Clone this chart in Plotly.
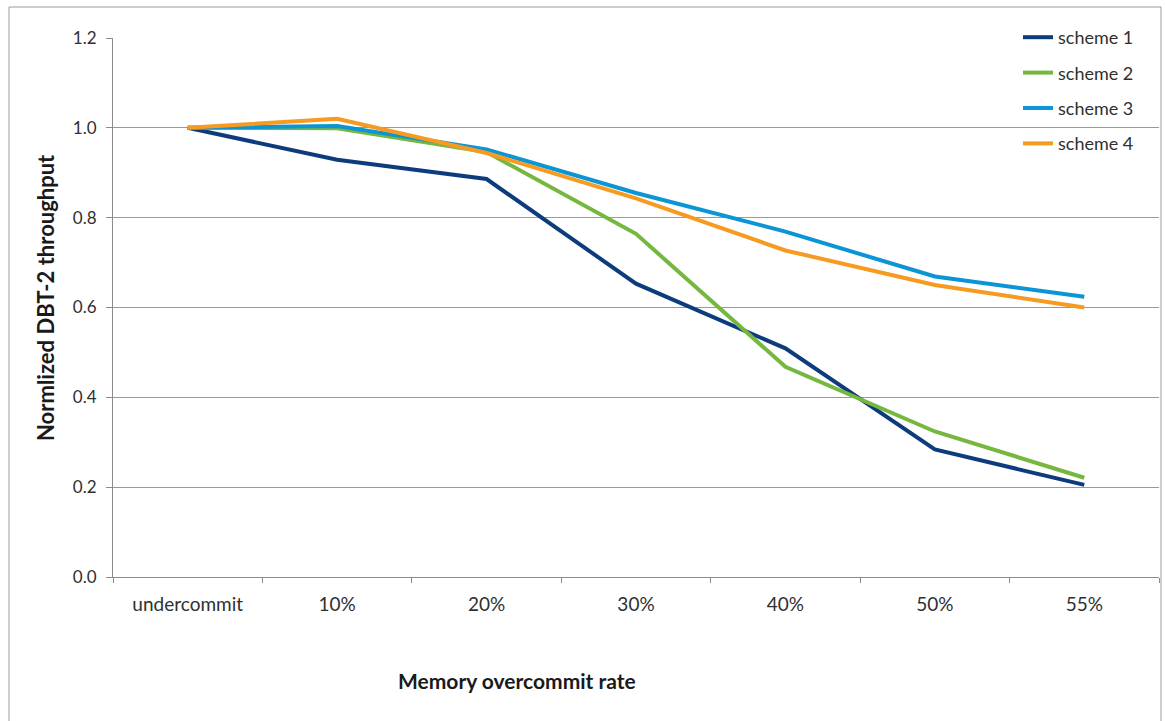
import plotly.graph_objects as go

categories = ["undercommit", "10%", "20%", "30%", "40%", "50%", "55%"]
scheme_1 = [1.0, 0.929, 0.886, 0.653, 0.509, 0.284, 0.205]
scheme_2 = [1.0, 0.999, 0.946, 0.764, 0.468, 0.324, 0.221]
scheme_3 = [1.0, 1.004, 0.952, 0.855, 0.769, 0.669, 0.624]
scheme_4 = [1.0, 1.020, 0.944, 0.843, 0.727, 0.650, 0.600]
series_names = ["scheme 1", "scheme 2", "scheme 3", "scheme 4"]
y_ticks = [0.0, 0.2, 0.4, 0.6, 0.8, 1.0, 1.2]

colors = ["#0D3C7D", "#76B740", "#0C95D4", "#F79A20"]
FONT = "Lato"

W, H = 1165, 721
L, R, T, B = 113, 6, 38, 144
pw, ph = W - L - R, H - T - B

fig = go.Figure()
for i, (name, vals) in enumerate(zip(series_names, [scheme_1, scheme_2, scheme_3, scheme_4])):
    fig.add_trace(go.Scatter(
        x=categories, y=vals, name=name, mode="lines",
        line=dict(color=colors[i], width=4),
        legendgroup=name,
    ))

def px_x(v):
    return (v - L) / pw

def px_y(v):
    return (H - B - v) / ph

fig.update_layout(
    width=W, height=H,
    margin=dict(l=L, r=R, t=T, b=B),
    paper_bgcolor="white", plot_bgcolor="white",
    font=dict(family=FONT, size=18, color="#303030"),
    showlegend=True,
    legend=dict(
        x=px_x(1018), y=px_y(19), xanchor="left", yanchor="top",
        traceorder="grouped", tracegroupgap=9,
        bgcolor="rgba(0,0,0,0)", font=dict(size=18, color="#303030"),
        itemwidth=30,
    ),
    xaxis=dict(
        type="category", range=[-0.5, 6.5],
        showgrid=False, showline=True, linecolor="#8C8C8C", linewidth=1,
        ticks="outside", tickson="boundaries", ticklen=5, tickcolor="#8C8C8C",
        tickfont=dict(size=19, color="#303030"),
        zeroline=False, ticklabelstandoff=10,
    ),
    yaxis=dict(
        range=[0, 1.2], tickvals=y_ticks, tickformat=".1f",
        showgrid=True, gridcolor="#9A9A9A", gridwidth=1,
        showline=True, linecolor="#8C8C8C", linewidth=1,
        ticks="outside", ticklen=6, tickcolor="#8C8C8C",
        tickfont=dict(size=17, color="#303030"),
        zeroline=False, ticklabelstandoff=6,
    ),
    shapes=[dict(
        type="rect", xref="paper", yref="paper",
        x0=px_x(9), x1=px_x(1161), y0=px_y(740), y1=px_y(7),
        line=dict(color="#9A9A9A", width=1), fillcolor="rgba(0,0,0,0)", layer="below",
    )],
    annotations=[
        dict(text="<b>Memory overcommit rate</b>", xref="paper", yref="paper",
             x=px_x(517), y=px_y(680), xanchor="center", yanchor="middle",
             showarrow=False, font=dict(size=21, color="#1a1a1a", family=FONT)),
        dict(text="<b>Normlized DBT-2 throughput</b>", xref="paper", yref="paper",
             x=px_x(45), y=px_y(298), xanchor="center", yanchor="middle",
             showarrow=False, textangle=-90,
             font=dict(size=22, color="#1a1a1a", family=FONT)),
    ],
)

fig.write_html("out.html")
